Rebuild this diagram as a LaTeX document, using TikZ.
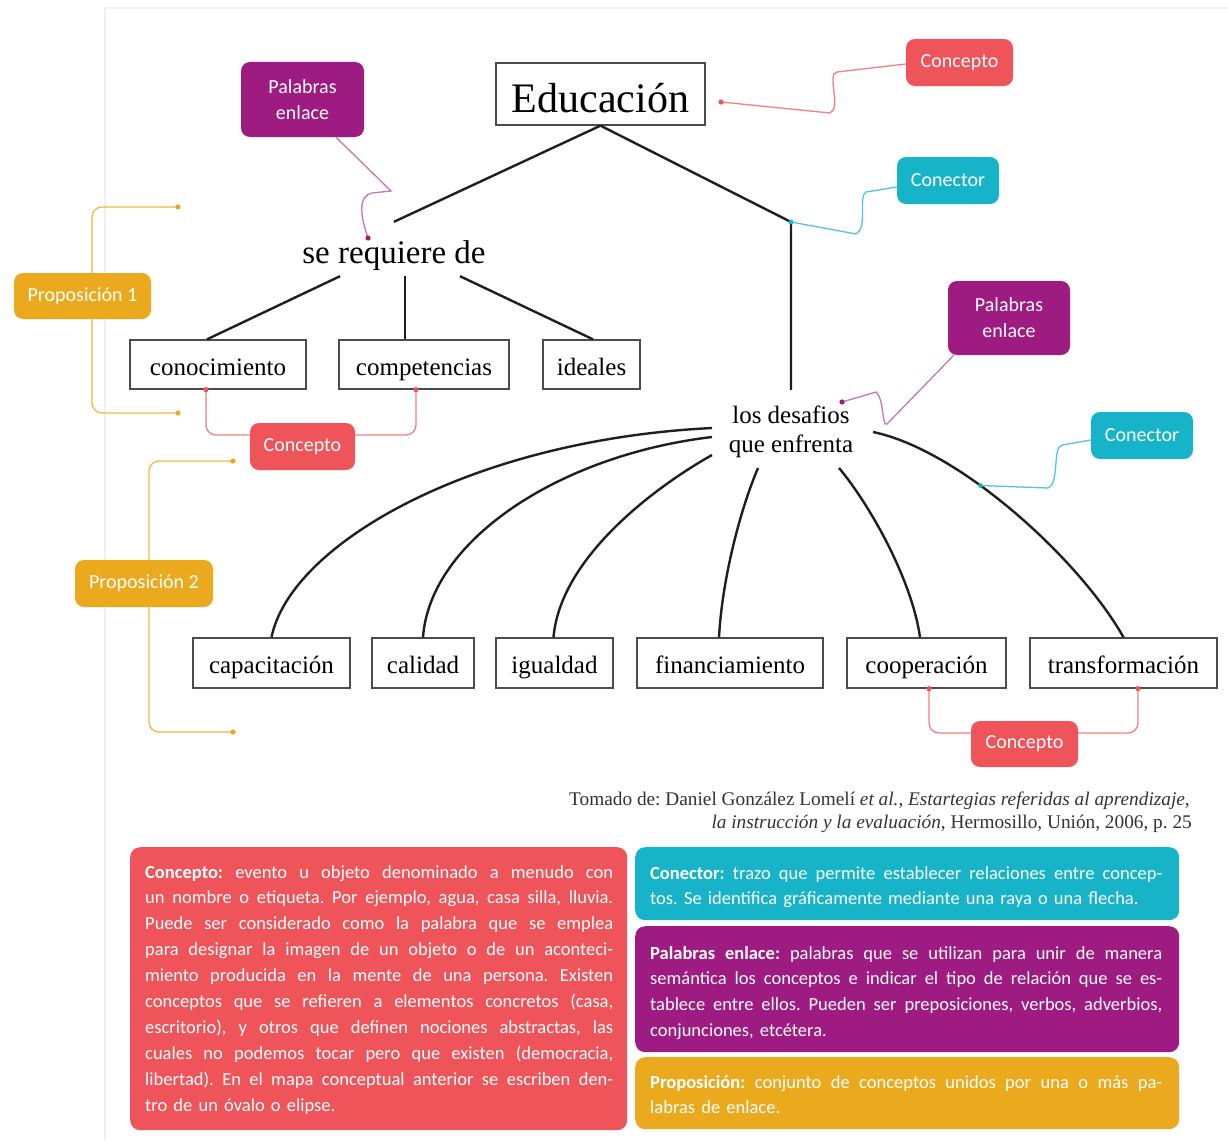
\documentclass[tikz,border=0pt]{standalone}
\usepackage{fontspec}
\setmainfont{Liberation Serif}
\newfontfamily\labelfont{Carlito}
\usetikzlibrary{calc}
\definecolor{cred}{HTML}{EE5459}
\definecolor{ccyan}{HTML}{17B4C9}
\definecolor{cmag}{HTML}{9E1B82}
\definecolor{cyel}{HTML}{EBAA1E}
\newcommand\jlfill[2]{\leavevmode\hbox to #1{\spaceskip=0.2em plus 1fil\xspaceskip=0.2em plus 1fil\relax #2}}
\newcommand\jlr[1]{\jlfill{468pt}{#1}}
\newcommand\jlb[1]{\jlfill{512pt}{#1}}
\newcommand\legfont{\labelfont\fontsize{18.5}{25.9}\selectfont}
\frenchspacing
\begin{document}
\frenchspacing
\begin{tikzpicture}[x=1pt,y=-1pt,
  mainline/.style={line width=2.4pt, draw=black!88},
  cbox/.style={draw=black!70, line width=1.3pt, inner sep=0pt, font=\fontsize{25}{30}\selectfont},
  lab/.style={rounded corners=9pt, text=white, inner sep=0pt, align=center, font=\labelfont\fontsize{20}{26}\selectfont},
  legbox/.style={rounded corners=10pt, inner sep=0pt, anchor=north west},
  legtext/.style={inner sep=0pt, anchor=base west, align=left, text=white, font=\legfont},
  thinred/.style={draw=cred!75, line width=1.3pt},
  thincyan/.style={draw=ccyan!75, line width=1.3pt},
  thinmag/.style={draw=cmag!60, line width=1.3pt},
  thinyel/.style={draw=cyel!85, line width=1.3pt, rounded corners=10pt}
]
\path[use as bounding box, fill=white] (0,0) rectangle (1228,1140);
\draw[black!6, line width=1.5pt] (105,1140) -- (105,8) -- (1228,8);

% concept boxes
\node[cbox, font=\fontsize{42}{48}\selectfont, minimum width=209pt, minimum height=62pt, text height=36pt, text depth=0pt] (edu) at (600.5,94) {Educación};
\node[inner sep=0pt, font=\fontsize{33}{38}\selectfont, minimum width=190pt, minimum height=54pt, text height=28pt, text depth=0pt] (req) at (394,249) {se requiere de};
\node[inner sep=0pt, align=center, font=\fontsize{25}{29}\selectfont, minimum width=170pt, minimum height=83pt] (des) at (791,431.5) {los desafios\\que enfrenta};

\begin{scope}[every node/.style={cbox, minimum height=49pt, text height=21pt, text depth=0pt}]
\node[minimum width=176pt] (cono) at (218,364.5) {conocimiento};
\node[minimum width=170pt] (comp) at (424,364.5) {competencias};
\node[minimum width=97pt] (ideal) at (591.5,364.5) {ideales};
\end{scope}
\begin{scope}[every node/.style={cbox, minimum height=50pt, text height=20pt, text depth=0pt}]
\node[minimum width=157pt] (capa) at (271.5,663) {capacitación};
\node[minimum width=102pt] (cali) at (423,663) {calidad};
\node[minimum width=117pt] (igua) at (554.5,663) {igualdad};
\node[minimum width=186pt] (fina) at (730,663) {financiamiento};
\node[minimum width=159pt] (coop) at (926.5,663) {cooperación};
\node[minimum width=187pt] (tran) at (1123.5,663) {transformación};
\end{scope}

% main connectors
\coordinate (j1) at (791,222);
\draw[mainline] (edu.south) -- (req.north);
\draw[mainline] (edu.south) -- (j1) -- (des.north);
\draw[mainline] ($(req.south)+(-54,0)$) -- ($(cono.north)+(-11,0)$);
\draw[mainline] ($(req.south)+(11,0)$) -- ($(comp.north)+(-19,0)$);
\draw[mainline] ($(req.south)+(66,0)$) -- ($(ideal.north)+(1.5,0)$);
\draw[mainline] ($(des.center)+(-79,-3.5)$) .. controls (470,440) and (290,545) .. (capa.north);
\draw[mainline] ($(des.center)+(-79,5.5)$) .. controls (560,455) and (430,540) .. (cali.north);
\draw[mainline] ($(des.center)+(-79,23.5)$) .. controls (650,490) and (560,560) .. ($(igua.north)+(-1,0)$);
\draw[mainline] ($(des.center)+(-33,36.5)$) .. controls (740,510) and (722,580) .. ($(fina.north)+(-11,0)$);
\draw[mainline] ($(des.center)+(48,36.5)$) .. controls (870,505) and (912,580) .. ($(coop.north)+(-6.5,0)$);
\draw[mainline] ($(des.center)+(82,0.5)$) .. controls (960,450) and (1080,560) .. (tran.north) coordinate[pos=0.38] (c2);

% annotation labels
\node[lab, fill=cred, minimum width=107pt, minimum height=47pt] (ctop) at (959.5,62.5) {Concepto};
\node[lab, fill=ccyan, minimum width=102pt, minimum height=47pt] (conn1) at (948,180.5) {Conector};
\node[lab, fill=cmag, minimum width=123pt, minimum height=75pt] (pe1) at (302.5,99.5) {Palabras\\enlace};
\node[lab, fill=cmag, minimum width=122pt, minimum height=74pt] (pe2) at (1009,318) {Palabras\\enlace};
\node[lab, fill=ccyan, minimum width=102pt, minimum height=47pt] (conn2) at (1142,435.5) {Conector};
\node[lab, fill=cred, minimum width=105pt, minimum height=47pt] (cmid) at (302.5,446.5) {Concepto};
\node[lab, fill=cred, minimum width=107pt, minimum height=46pt] (cbot) at (1024.5,744) {Concepto};

% annotation connectors
\coordinate (rdot) at (721,102);
\coordinate (mdot1) at (368,238);
\coordinate (mdot2) at (842,402);
\coordinate (rb1) at ($(cono.south)+(-12,0)$);
\coordinate (rb2) at ($(comp.south)+(-8,0)$);
\coordinate (rb3) at ($(coop.south)+(2.5,0)$);
\coordinate (rb4) at ($(tran.south)+(14.5,0)$);
\coordinate (y1a) at (178,207);
\coordinate (y1b) at (178,413);
\coordinate (y2a) at (233,461);
\coordinate (y2b) at (233,732);

\draw[thinred] ($(ctop.west)+(0,1.5)$) -- (837,72) .. controls (826,74) and (842,108) .. (830,113) -- (rdot);
\draw[thincyan] ($(conn1.west)+(0,6.5)$) -- (866,192) .. controls (858,196) and (868,228) .. (856,234) -- (j1);
\draw[thinmag] ($(pe2.south west)+(6,0)$) -- (887,424) .. controls (882,428) and (884,398) .. (876,392) -- (mdot2);
\draw[thinmag] ($(pe1.south)+(33.5,0)$) -- (391,191) -- (372,193) .. controls (358,196) and (360,215) .. (mdot1);
\draw[thincyan] ($(conn2.west)+(0,4.5)$) -- (1062,445) .. controls (1052,448) and (1060,482) .. (1048,488) -- (c2);
\draw[thinred, rounded corners=10pt] (rb1) -- (206,435) -- ($(cmid.west)+(0,-11.5)$);
\draw[thinred, rounded corners=10pt] (rb2) -- (416,435) -- ($(cmid.east)+(0,-11.5)$);
\draw[thinred, rounded corners=10pt] (rb3) -- (929,733) -- ($(cbot.west)+(0,-11)$);
\draw[thinred, rounded corners=10pt] (rb4) -- (1138,733) -- ($(cbot.east)+(0,-11)$);
\draw[thinyel] (92,280) -- (92,207) -- (y1a);
\draw[thinyel] (92,310) -- (92,413) -- (y1b);
\draw[thinyel] (149,570) -- (149,461) -- (y2a);
\draw[thinyel] (149,600) -- (149,732) -- (y2b);
\node[lab, fill=cyel, minimum width=137pt, minimum height=46pt] (prop1) at (82.5,296) {Proposición 1};
\node[lab, fill=cyel, minimum width=138pt, minimum height=47pt] (prop2) at (144,583.5) {Proposición 2};

\foreach \p in {rdot,rb1,rb2,rb3,rb4} \fill[cred] (\p) circle (2.6pt);
\foreach \p in {mdot1,mdot2} \fill[cmag] (\p) circle (2.6pt);
\foreach \p in {j1,c2} \fill[ccyan] (\p) circle (2.4pt);
\foreach \p in {y1a,y1b,y2a,y2b} \fill[cyel] (\p) circle (2.6pt);

% citation
\node[anchor=base east, inner sep=0pt, text=black!80, font=\fontsize{19.3}{23}\selectfont] (cit1) at (1190,805) {Tomado de: Daniel González Lomelí \textit{et al.}, \textit{Estartegias referidas al aprendizaje},};
\node[anchor=base east, inner sep=0pt, text=black!80, font=\fontsize{19.3}{23}\selectfont] (cit2) at (1192,828) {\textit{la instrucción y la evaluación}, Hermosillo, Unión, 2006, p.~25};

% legend
\node[legbox, fill=cred, minimum width=497pt, minimum height=283pt] (lgc) at (130,847) {};
\node[legbox, fill=ccyan, minimum width=544pt, minimum height=73pt] (lgn) at (635,847) {};
\node[legbox, fill=cmag, minimum width=544pt, minimum height=126pt] (lgp) at (635,926) {};
\node[legbox, fill=cyel, minimum width=544pt, minimum height=72pt] (lgy) at (635,1057) {};

\node[legtext, text width=468pt] (lgct) at (145,878) {%
\jlr{\textbf{Concepto:} evento u objeto denominado a menudo con}\\
\jlr{un nombre o etiqueta. Por ejemplo, agua, casa silla, lluvia.}\\
\jlr{Puede ser considerado como la palabra que se emplea}\\
\jlr{para designar la imagen de un objeto o de un aconteci-}\\
\jlr{miento producida en la mente de una persona. Existen}\\
\jlr{conceptos que se refieren a elementos concretos (casa,}\\
\jlr{escritorio), y otros que definen nociones abstractas, las}\\
\jlr{cuales no podemos tocar pero que existen (democracia,}\\
\jlr{libertad). En el mapa conceptual anterior se escriben den-}\\
tro de un óvalo o elipse.};
\node[legtext, text width=512pt] (lgnt) at (650,879) {%
\jlb{\textbf{Conector:} trazo que permite establecer relaciones entre concep-}\\
tos. Se identifica gráficamente mediante una raya o una flecha.};
\node[legtext, text width=512pt] (lgpt) at (650,959) {%
\jlb{\textbf{Palabras enlace:} palabras que se utilizan para unir de manera}\\
\jlb{semántica los conceptos e indicar el tipo de relación que se es-}\\
\jlb{tablece entre ellos. Pueden ser preposiciones, verbos, adverbios,}\\
conjunciones, etcétera.};
\node[legtext, text width=512pt] (lgyt) at (650,1088) {%
\jlb{\textbf{Proposición:} conjunto de conceptos unidos por una o más pa-}\\
labras de enlace.};
\end{tikzpicture}
\end{document}
